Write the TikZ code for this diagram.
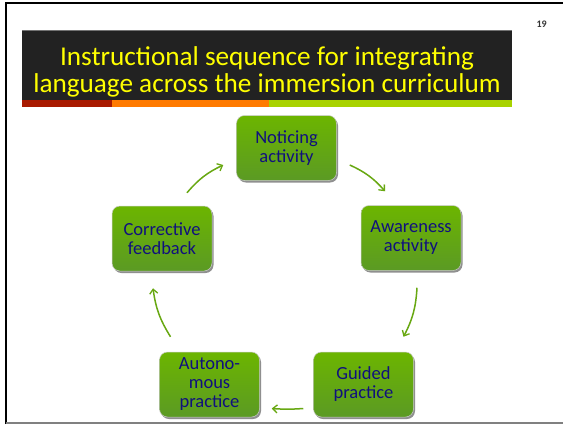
\documentclass[tikz,border=0pt]{standalone}
\usepackage{fontspec}
\setmainfont{Carlito}
\usetikzlibrary{arrows.meta,shadows}

\definecolor{bandgray}{HTML}{222222}
\definecolor{titleyellow}{HTML}{FFFF00}
\definecolor{barred}{HTML}{A81A00}
\definecolor{barorange}{HTML}{FF7A00}
\definecolor{bargreen}{HTML}{A8D200}
\definecolor{boxtop}{HTML}{6CB500}
\definecolor{boxbottom}{HTML}{5B9A24}
\definecolor{boxtext}{HTML}{10107E}
\definecolor{flowgreen}{HTML}{68A812}

\tikzset{
  stagebox/.style={
    rectangle, rounded corners=8pt, minimum width=100pt, minimum height=65pt,
    top color=boxtop, bottom color=boxbottom, draw=black!20, line width=0.5pt,
    drop shadow={shadow xshift=1.5pt, shadow yshift=-2pt, opacity=0.55, fill=black!80},
    align=center, text=boxtext, font=\fontsize{18.5}{19}\selectfont
  },
  flow/.style={draw=flowgreen, line width=1.5pt,
    -{Straight Barb[length=4.5pt,width=8pt,line width=1.3pt]}},
  titleline/.style={anchor=base, text=titleyellow, inner sep=0pt,
    font=\fontsize{27.2}{28}\selectfont}
}

\begin{document}
\begin{tikzpicture}[x=1pt,y=-1pt]
  \useasboundingbox (0,0) rectangle (563,424);
  \fill[white] (0,0) rectangle (563,424);

  % slide frame
  \draw[line width=2pt] (6,424) -- (6,2.5) -- (563,2.5);
  \draw[gray, line width=1.5pt] (6,423.2) -- (563,423.2);

  % slide number
  \node[anchor=base east, inner sep=0pt, font=\fontsize{10}{11}\selectfont\bfseries, text=black!80] (num) at (547,27) {19};

  % title band and coloured rule beneath it
  \fill[bandgray] (22,30) rectangle (512,100);
  \draw[black!55, line width=0.8pt] (22,30.4) -- (512,30.4);
  \fill[barred] (22,100) rectangle (112,107);
  \fill[barorange] (112,100) rectangle (269,107);
  \fill[bargreen] (269,100) rectangle (512,107);

  \node[titleline] (t1) at (267,65) {Instructional sequence for integrating};
  \node[titleline] (t2) at (267,92) {language across the immersion curriculum};

  % cycle stages
  \node[stagebox] (not) at (286.5,148) {Noticing\\activity};
  \node[stagebox] (awa) at (411,238) {Awareness\\activity};
  \node[stagebox] (gui) at (363.5,384.5) {Guided\\practice};
  \node[stagebox] (aut) at (209.5,384.5) {Autono-\\mous\\practice};
  \node[stagebox] (cor) at (162,238.5) {Corrective\\feedback};

  % clockwise connectors
  \draw[flow] ([xshift=25pt,yshift=13pt]cor.north) to[bend left=12] ([xshift=-13pt,yshift=-17pt]not.west);
  \draw[flow] ([xshift=13pt,yshift=-17pt]not.east) to[bend left=12] ([xshift=-26pt,yshift=14pt]awa.north);
  \draw[flow] ([xshift=6pt,yshift=-17pt]awa.south) to[bend left=12] ([xshift=40pt,yshift=15pt]gui.north);
  \draw[flow] ([xshift=-10pt,yshift=-24pt]gui.west) to[bend left=4] ([xshift=12pt,yshift=-24pt]aut.east);
  \draw[flow] ([xshift=-39pt,yshift=15pt]aut.north) to[bend left=12] ([xshift=-9pt,yshift=-17pt]cor.south);
\end{tikzpicture}
\end{document}
